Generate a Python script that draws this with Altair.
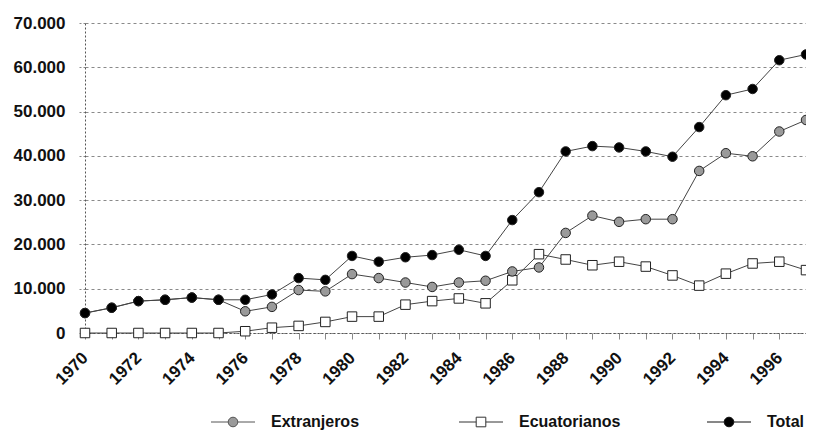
import altair as alt
import pandas as pd

# ---- data ----
years = list(range(1970, 1998))
extranjeros = [4500, 5700, 7200, 7500, 8000, 7500, 4900, 5900, 9700, 9400,
               13300, 12400, 11400, 10400, 11400, 11800, 13900, 14800, 22600, 26500,
               25100, 25700, 25700, 36600, 40600, 39900, 45500, 48100]
ecuatorianos = [0, 0, 0, 0, 0, 0, 400, 1200, 1600, 2500,
                3700, 3700, 6400, 7200, 7800, 6700, 11900, 17800, 16600, 15300,
                16100, 15000, 13000, 10700, 13400, 15700, 16100, 14200]
total = [4500, 5700, 7200, 7500, 8000, 7500, 7500, 8700, 12400, 12000,
         17400, 16100, 17100, 17600, 18800, 17400, 25500, 31800, 41000, 42200,
         41900, 41000, 39800, 46500, 53700, 55100, 61600, 62900]
series = ["Extranjeros", "Ecuatorianos", "Total"]
y_ticks = [0, 10000, 20000, 30000, 40000, 50000, 60000, 70000]

rows = []
for name, vals in (("Ecuatorianos", ecuatorianos), ("Extranjeros", extranjeros), ("Total", total)):
    for yr, v in zip(years, vals):
        rows.append({"year": yr, "value": v, "serie": name})
df = pd.DataFrame(rows)

FONT = "Liberation Sans"
fills = ["#9a9a9a", "#ffffff", "#000000"]
strokes = ["#555555", "#333333", "#111111"]

x = alt.X("year:Q",
          scale=alt.Scale(domain=[1970, 1997], nice=False, zero=False),
          axis=alt.Axis(values=years,
                        labelExpr="datum.value % 2 == 0 ? '' + datum.value : ''",
                        labelAngle=-45, labelAlign="right", labelBaseline="middle",
                        labelPadding=16, labelOverlap=False, labelFlush=False,
                        tickSize=6, tickColor="#888", domainDash=[2, 2], domainColor="#555",
                        grid=False, title=None, labelFont=FONT, labelFontSize=17,
                        labelFontWeight="bold", labelColor="#111"))
y = alt.Y("value:Q",
          scale=alt.Scale(domain=[0, 70000], nice=False),
          axis=alt.Axis(values=y_ticks,
                        labelExpr="replace(format(datum.value, ','), ',', '.')",
                        grid=True, gridDash=[3, 3], gridColor="#8a8a8a",
                        tickSize=8, tickDash=[2, 2], tickColor="#888",
                        domainDash=[2, 2], domainColor="#555",
                        labelPadding=12, title=None, labelFont=FONT, labelFontSize=17,
                        labelFontWeight="bold", labelColor="#111"))

lines = alt.Chart(df).mark_line(color="#444", strokeWidth=1).encode(
    x=x, y=y, detail="serie:N")

points = alt.Chart(df).mark_point(filled=True, stroke="#222", strokeWidth=1,
                                  opacity=1, size=90).encode(
    x=x, y=y,
    shape=alt.Shape("serie:N", scale=alt.Scale(domain=series, range=["circle", "square", "circle"]),
                    legend=None),
    fill=alt.Fill("serie:N", scale=alt.Scale(domain=series, range=fills), legend=None),
)

P_CIRCLE = "M-5.5,0H-1.2M1.2,0H5.5M-1.2,0A1.2,1.2,0,1,0,1.2,0A1.2,1.2,0,1,0,-1.2,0Z"
P_SQUARE = "M-5.5,0H-1.2M1.2,0H5.5M-1.2,-1.2H1.2V1.2H-1.2Z"

legend_def = alt.Legend(title=None, orient="none", legendX=140, legendY=391,
                        direction="horizontal", symbolSize=64, symbolStrokeWidth=1,
                        labelFont=FONT, labelFontSize=16, labelFontWeight="bold",
                        labelColor="#111", labelOffset=30, columnPadding=84,
                        gridAlign="all", padding=0)

legend_layer = alt.Chart(df).transform_filter("datum.year < 0").mark_point(
    filled=True, opacity=1, strokeWidth=1).encode(
    x=x, y=y,
    shape=alt.Shape("serie:N", scale=alt.Scale(domain=series, range=[P_CIRCLE, P_SQUARE, P_CIRCLE]),
                    legend=legend_def),
    fill=alt.Fill("serie:N", scale=alt.Scale(domain=series, range=fills), legend=legend_def),
    stroke=alt.Stroke("serie:N", scale=alt.Scale(domain=series, range=strokes), legend=legend_def),
)

chart = alt.layer(lines, points, legend_layer).resolve_scale(
    shape="independent", fill="independent", stroke="independent"
).properties(
    width=721, height=310,
    autosize=alt.AutoSizeParams(type="none"),
    padding={"left": 77, "top": 15, "right": 0, "bottom": 100},
).configure_view(stroke=None)

chart.save("out.html", embed_options={"renderer": "svg", "actions": False})
